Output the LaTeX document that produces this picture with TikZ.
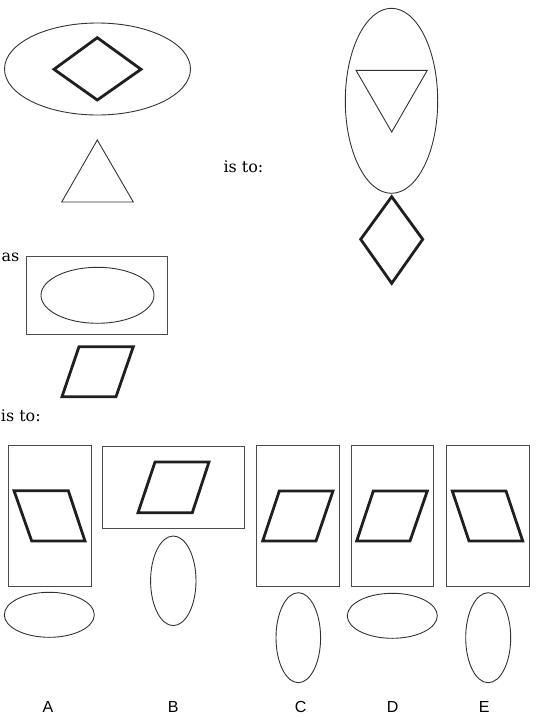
\documentclass[tikz,border=0pt]{standalone}
\usepackage{fontspec}
\setmainfont{DejaVu Serif}
\newfontfamily\labelfont{Liberation Sans}
\begin{document}
\begin{tikzpicture}[x=1pt,y=-1pt,
  thinline/.style={draw=black!80,line width=0.9pt},
  thickline/.style={draw=black!88,line width=2.8pt},
  box/.style={draw=black!70,line width=0.9pt},
  seriftext/.style={font=\fontsize{16}{19}\selectfont,inner sep=0pt,anchor=base west},
  optlabel/.style={font=\labelfont\fontsize{16}{19}\selectfont,inner sep=0pt}]
\useasboundingbox (0,0) rectangle (538,718);

% ---- top left: ellipse with diamond, triangle below
\draw[thinline] (97.5,69) ellipse [x radius=93, y radius=46];
\draw[thickline] (54,69.3) -- (97.3,37.7) -- (141,69.3) -- (97.3,100) -- cycle;
\draw[thinline] (97.3,140) -- (133.3,202) -- (61.7,202) -- cycle;

\node[seriftext] (isto1) at (223.3,172.3) {is to:};

% ---- top right: tall ellipse with inverted triangle, diamond below
\draw[thinline] (391.5,100.8) ellipse [x radius=46.2, y radius=92.5];
\draw[thinline] (356,70.3) -- (427.3,70.3) -- (391.7,132) -- cycle;
\draw[thickline] (391.7,196.7) -- (422.7,239.3) -- (391.7,283.3) -- (360.7,239.3) -- cycle;

% ---- middle left: rectangle with ellipse, parallelogram below
\node[seriftext] (as) at (1.5,261) {as};
\draw[box] (26.7,256.7) rectangle (167.7,334);
\draw[thinline] (97.5,295.3) ellipse [x radius=56.5, y radius=28];
\draw[thickline] (79,346.7) -- (133.3,346.7) -- (116,396.7) -- (62,396.7) -- cycle;

\node[seriftext] (isto2) at (0.7,421.5) {is to:};

% ---- option A
\draw[box] (8.3,445.3) rectangle (91,586.3);
\draw[thickline] (14,490.7) -- (68.3,490.7) -- (85,541) -- (31.7,541) -- cycle;
\draw[thinline] (49.3,614.8) ellipse [x radius=45, y radius=22.5];

% ---- option B
\draw[box] (102.7,446) rectangle (244,528.3);
\draw[thickline] (155,462) -- (209,462) -- (192.3,512.7) -- (138,512.7) -- cycle;
\draw[thinline] (173.3,580.8) ellipse [x radius=22.7, y radius=44.8];

% ---- option C
\draw[box] (256.3,445.3) rectangle (339.3,586.7);
\draw[thickline] (279.3,491) -- (333,491) -- (316,541) -- (262.7,541) -- cycle;
\draw[thinline] (298.3,637.7) ellipse [x radius=22.3, y radius=45];

% ---- option D
\draw[box] (351,445.3) rectangle (433.3,586.7);
\draw[thickline] (373.3,491) -- (427.3,491) -- (410,541) -- (356.7,541) -- cycle;
\draw[thinline] (392.3,615.8) ellipse [x radius=45, y radius=22.5];

% ---- option E
\draw[box] (446.3,445.3) rectangle (529.3,586.7);
\draw[thickline] (452.3,491) -- (506,491) -- (522.7,541) -- (469,541) -- cycle;
\draw[thinline] (488.2,637.7) ellipse [x radius=22.5, y radius=45];

% ---- labels
\node[optlabel] (labA) at (48,707) {A};
\node[optlabel] (labB) at (173.3,707) {B};
\node[optlabel] (labC) at (300.7,707) {C};
\node[optlabel] (labD) at (392.7,707) {D};
\node[optlabel] (labE) at (484.3,707) {E};
\end{tikzpicture}
\end{document}
